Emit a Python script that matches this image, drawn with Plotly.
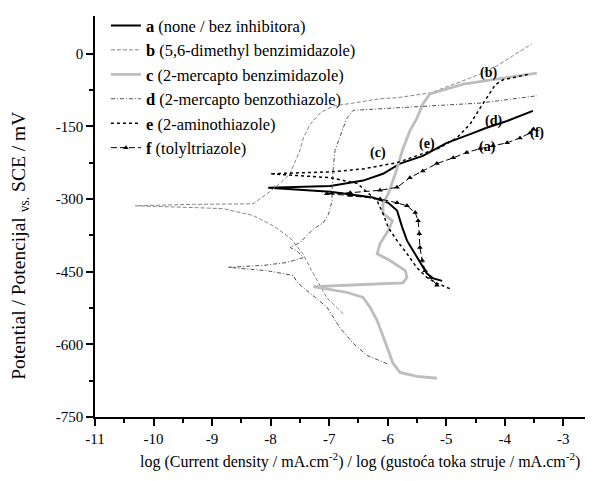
import plotly.graph_objects as go

# ---- data ----
a_x = [-5.07, -5.22, -5.33, -5.45, -5.57, -5.67, -5.75, -5.84, -5.99, -6.25, -6.98, -8.04,
       -6.98, -6.42, -6.08, -5.79, -5.40, -4.99, -4.59, -4.31, -3.96, -3.52]
a_y = [-469, -464, -454, -431, -407, -386, -359, -324, -308, -297, -285, -277,
       -273, -262, -248, -227, -211, -184, -166, -153, -139, -118]

b_x = [-6.76, -7.04, -7.27, -7.45, -7.67, -7.96, -8.30, -8.81, -9.25, -10.31,
       -9.30, -8.30, -8.06, -7.84, -7.67, -7.50, -7.44, -7.32, -7.15, -6.93, -6.59,
       -6.35, -6.13, -5.84, -5.27, -4.71, -4.42, -4.13, -3.86, -3.54]
b_y = [-537, -504, -454, -413, -380, -355, -334, -320, -318, -314,
       -311, -310, -289, -268, -248, -200, -174, -145, -122, -108, -102,
       -97, -93, -91, -81, -56, -42, -25, -5, 20]

c_x = [-5.16, -5.50, -5.79, -5.91, -6.01, -6.10, -6.18, -6.30, -6.42, -6.69, -7.27,
       -6.50, -5.74, -5.67, -5.70, -5.96, -6.18, -6.13, -5.99, -5.92, -6.08, -6.08,
       -5.99, -5.87, -5.75, -5.62, -5.50, -5.40, -5.28, -4.71, -4.13, -3.45]
c_y = [-670, -666, -658, -639, -606, -578, -551, -524, -503, -493, -481,
       -477, -473, -462, -448, -427, -413, -392, -365, -345, -330, -310,
       -289, -248, -200, -159, -133, -104, -83, -63, -52, -40]

d_x = [-6.01, -6.35, -6.59, -6.82, -7.04, -7.33, -7.55, -7.61, -8.06, -8.73,
       -8.12, -7.72, -7.44, -7.55, -7.67, -7.50, -7.38, -7.27, -7.10, -7.01, -6.95,
       -6.95, -6.93, -6.90, -6.76, -6.69, -6.59, -6.13, -5.27, -4.42, -3.45]
d_y = [-640, -623, -598, -565, -523, -495, -472, -458, -448, -441,
       -437, -431, -421, -407, -400, -390, -376, -362, -349, -331, -304,
       -283, -235, -200, -153, -132, -117, -114, -108, -102, -87]

e_x = [-4.94, -5.16, -5.33, -5.50, -5.67, -5.84, -5.99, -6.08, -6.18, -6.52, -6.98, -8.01,
       -6.98, -6.42, -5.84, -5.50, -5.11, -4.82, -4.59, -4.42, -4.28, -4.16, -4.03,
       -3.82, -3.57]
e_y = [-485, -474, -462, -442, -413, -386, -359, -330, -304, -268, -256, -248,
       -244, -238, -225, -211, -194, -174, -145, -112, -87, -64, -54,
       -48, -42]

f_x = [-5.16, -5.27, -5.36, -5.41, -5.45, -5.46, -5.48, -5.53, -5.67, -5.84, -6.13, -6.64,
       -7.04, -6.64, -6.13, -5.84, -5.62, -5.40, -5.16, -4.88, -4.65, -4.42, -4.20,
       -3.96, -3.74, -3.57, -3.51]
f_y = [-478, -462, -448, -427, -400, -372, -345, -328, -314, -308, -300, -293,
       -289, -287, -282, -276, -256, -242, -227, -215, -204, -196, -190,
       -184, -174, -164, -156]

names = ["<b>a</b> (none / bez inhibitora)",
         "<b>b</b> (5,6-dimethyl benzimidazole)",
         "<b>c</b> (2-mercapto benzimidazole)",
         "<b>d</b> (2-mercapto benzothiazole)",
         "<b>e</b> (2-aminothiazole)",
         "<b>f</b> (tolyltriazole)"]

label_text = ["(a)", "(b)", "(c)", "(d)", "(e)", "(f)"]
label_x = [-4.30, -4.28, -6.16, -4.20, -5.33, -3.45]
label_y = [-192, -40, -205, -139, -186, -163]

x_tickvals = [-11, -10, -9, -8, -7, -6, -5, -4, -3]
x_ticktext = ["-11", "-10", "-9", "-8", "-7", "-6", "-5", "-4", "-3"]
y_tickvals = [-750, -600, -450, -300, -150, 0]
y_ticktext = ["-750", "-600", "-450", "-300", "-150", "0"]
x_minor = [-10.5, -9.5, -8.5, -7.5, -6.5, -5.5, -4.5, -3.5]
y_minor = [-675, -525, -375, -225, -75]

FONT = "Times New Roman, Liberation Serif, DejaVu Serif, serif"

fig = go.Figure()
fig.add_trace(go.Scatter(x=a_x, y=a_y, mode="lines", name=names[0],
                         line=dict(color="black", width=2)))
fig.add_trace(go.Scatter(x=b_x, y=b_y, mode="lines", name=names[1],
                         line=dict(color="#858585", width=1, dash="4px,2px")))
fig.add_trace(go.Scatter(x=c_x, y=c_y, mode="lines", name=names[2],
                         line=dict(color="#bdbdbd", width=2.8)))
fig.add_trace(go.Scatter(x=d_x, y=d_y, mode="lines", name=names[3],
                         line=dict(color="#505050", width=1, dash="4px,2px,1px,2px")))
fig.add_trace(go.Scatter(x=e_x, y=e_y, mode="lines", name=names[4],
                         line=dict(color="black", width=1.5, dash="3px,3px")))
fig.add_trace(go.Scatter(x=f_x, y=f_y, mode="lines+markers", name=names[5],
                         line=dict(color="black", width=1, dash="6px,3px"),
                         marker=dict(symbol="triangle-up", size=5, color="black")))

for t, x, y in zip(label_text, label_x, label_y):
    fig.add_annotation(x=x, y=y, text="<b>%s</b>" % t, showarrow=False,
                       font=dict(family=FONT, size=14, color="black"))

# axis titles
fig.add_annotation(xref="paper", yref="paper", x=-0.151, y=0.427,
                   text="Potential / Potencijal <sub>vs.</sub> SCE / mV",
                   textangle=-90, showarrow=False, xanchor="center", yanchor="middle",
                   font=dict(family=FONT, size=19.5, color="black"))
fig.add_annotation(xref="paper", yref="paper", x=0.533, y=-0.108,
                   text="log (Current density / mA.cm<sup>-2</sup>) / log (gustoća toka struje / mA.cm<sup>-2</sup>)",
                   showarrow=False, xanchor="center", yanchor="middle",
                   font=dict(family=FONT, size=16, color="black"))

axis_common = dict(showline=True, linecolor="black", linewidth=1.5, showgrid=False,
                   zeroline=False, ticks="outside", ticklen=7, tickwidth=1.5,
                   tickcolor="black", tickmode="array", automargin=False,
                   tickfont=dict(family=FONT, size=15, color="black"))

# the page body has an 8px margin, so the figure is 8px smaller than the window
fig.update_layout(
    width=585, height=473,
    margin=dict(l=87, r=1, t=7, b=64),
    paper_bgcolor="white", plot_bgcolor="white",
    font=dict(family=FONT, size=15, color="black"),
    showlegend=True,
    legend=dict(x=0.022, y=1.017, xanchor="left", yanchor="top",
                bgcolor="rgba(0,0,0,0)", font=dict(family=FONT, size=16.5, color="black"),
                tracegroupgap=0),
    xaxis=dict(range=[-11, -2.51], tickvals=x_tickvals, ticktext=x_ticktext,
               minor=dict(tickvals=x_minor, ticks="outside", ticklen=4, tickwidth=1.5,
                          tickcolor="black"),
               **axis_common),
    yaxis=dict(range=[-750, 77.7], tickvals=y_tickvals, ticktext=y_ticktext,
               minor=dict(tickvals=y_minor, ticks="outside", ticklen=4, tickwidth=1.5,
                          tickcolor="black"),
               **axis_common),
)

fig.write_html("out.html")
